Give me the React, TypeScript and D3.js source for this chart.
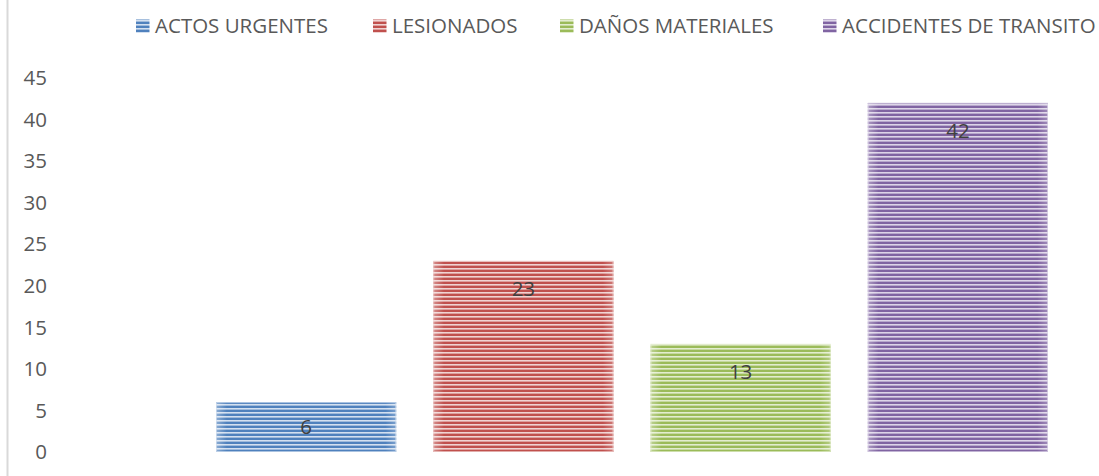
import React from "react";
import * as d3 from "d3";

const seriesNames = ["ACTOS URGENTES", "LESIONADOS", "DAÑOS MATERIALES", "ACCIDENTES DE TRANSITO"];
const seriesValues = [6, 23, 13, 42];
const darkColors = ["#4F81BD", "#C0504D", "#9BBB59", "#8064A2"];
const lightColors = ["#d3e0f0", "#f0d3d2", "#e3edcf", "#ddd5e8"];
const yTicks = [0, 5, 10, 15, 20, 25, 30, 35, 40, 45];
const legendX = [136, 373, 560, 823];

const W = 1099;
const H = 476;

export default function App() {
  const x = d3.scaleBand<string>().domain(seriesNames).range([216, 1048]).paddingInner(0.1705).paddingOuter(0);
  const y = d3.scaleLinear().domain([0, 45]).range([452, 78]);
  const font = "'Open Sans', 'Noto Sans', sans-serif";
  const fs = 20.5;
  return (
    <svg width={W} height={H} style={{ position: "absolute", left: 0, top: 0, background: "#fff" }}>
      <defs>
        {seriesNames.map((s, i) => (
          <pattern key={s} id={`p${i}`} patternUnits="userSpaceOnUse" width={8} height={4}>
            <rect x={0} y={0} width={8} height={4} fill={darkColors[i]} />
            <rect x={0} y={0} width={8} height={1.6} fill={lightColors[i]} />
          </pattern>
        ))}
        {seriesNames.map((s, i) => (
          <linearGradient key={s} id={`g${i}`} x1="0" x2="1" y1="0" y2="0">
            <stop offset="0" stopColor="#fff" stopOpacity={0.35} />
            <stop offset="0.06" stopColor="#fff" stopOpacity={0} />
            <stop offset="0.94" stopColor="#fff" stopOpacity={0} />
            <stop offset="1" stopColor="#fff" stopOpacity={0.25} />
          </linearGradient>
        ))}
      </defs>
      <line x1={7.5} x2={7.5} y1={0} y2={H} stroke="#d9d9d9" strokeWidth={2} />
      {yTicks.map((t) => (
        <text key={t} x={47} y={y(t)} dy="0.35em" textAnchor="end" fontFamily={font} fontSize={fs} fill="#595959">
          {t}
        </text>
      ))}
      {seriesNames.map((s, i) => {
        const bx = x(s)!;
        const bw = x.bandwidth();
        const top = y(seriesValues[i]);
        const bottom = y(0);
        const ly = Math.min(top + 28, (top + bottom) / 2);
        return (
          <g key={s}>
            <rect x={bx} y={top} width={bw} height={bottom - top} fill={`url(#p${i})`} />
            <rect x={bx} y={top} width={bw} height={bottom - top} fill={`url(#g${i})`} />
            <rect x={bx + 0.5} y={top + 0.5} width={bw - 1} height={bottom - top - 1} fill="none" stroke={lightColors[i]} strokeOpacity={0.7} strokeWidth={1} />
            <text x={bx + bw / 2} y={ly} dy="0.35em" textAnchor="middle" fontFamily={font} fontSize={fs} fill="#404040">
              {seriesValues[i]}
            </text>
          </g>
        );
      })}
      {seriesNames.map((s, i) => (
        <g key={s} transform={`translate(${legendX[i]},0)`}>
          <rect x={0} y={19.5} width={13.5} height={13.5} fill={`url(#p${i})`} />
          <text x={19} y={33} fontFamily={font} fontSize={fs} fill="#595959">
            {s}
          </text>
        </g>
      ))}
    </svg>
  );
}
